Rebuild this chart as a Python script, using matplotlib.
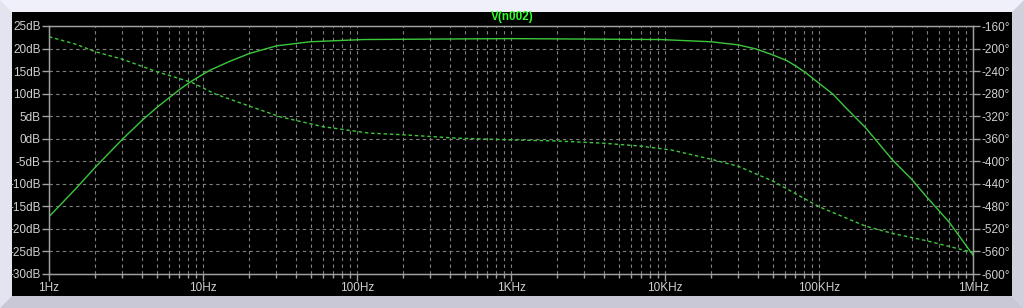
import numpy as np
import matplotlib
matplotlib.use("Agg")
import matplotlib.pyplot as plt
from matplotlib.patches import Polygon, Rectangle
from matplotlib.ticker import FixedLocator, LogLocator, NullFormatter

plt.rcParams["font.family"] = ["Liberation Sans", "DejaVu Sans"]

# magnitude of V(n002)
mag_freq = [1, 1.5, 2, 3, 4, 5, 7.1, 8.45, 11.1, 15, 20, 30, 49.5, 110, 1e3, 9.3e3, 2e4, 3e4, 3.9e4,
            5e4, 6.2e4, 7.16e4, 8.3e4, 1e5, 1.24e5, 1.48e5, 2e5, 3e5, 4e5, 5e5, 7e5, 1e6]
mag_db = [-17.3, -11.0, -6.3, -0.1, 4.0, 6.9, 11.0, 12.8, 15.2, 17.2, 18.9, 20.6, 21.5, 22.0, 22.2, 22.0, 21.5, 20.8, 19.9,
          18.6, 17.3, 16.0, 14.5, 12.3, 9.8, 7.0, 2.5, -4.7, -9.0, -12.9, -18.5, -25.8]

# phase of V(n002)
ph_freq = [1, 1.5, 2, 3, 5, 8.45, 12, 19, 31.6, 60, 120, 200, 444, 1e3, 2e3, 4e3, 6.9e3, 1.1e4, 2e4, 3e4, 5e4,
           1e5, 2e5, 3e5, 5e5, 9.1e5, 1e6]
ph_deg = [-179, -192.5, -205.6, -219, -241, -260, -280.6, -300, -321, -338.6, -350, -353, -359, -362, -364, -368, -373,
          -380, -396.5, -409, -435, -480.6, -515, -528, -541, -559, -562]

x_ticks = [1, 10, 100, 1e3, 1e4, 1e5, 1e6]
x_labels = ["1Hz", "10Hz", "100Hz", "1KHz", "10KHz", "100KHz", "1MHz"]
db_ticks = list(range(-30, 26, 5))
deg_ticks = list(range(-600, -159, 40))

W, H = 1024, 308
fig = plt.figure(figsize=(W / 100, H / 100), dpi=100)
fig.patch.set_facecolor("#f0f0fa")

# bevelled frame
def px(x, y):
    return (x / W, 1 - y / H)

frame = [
    Polygon([px(0, 0), px(0, 308), px(12, 296), px(12, 12)], closed=True, facecolor="#e4e4f0"),
    Polygon([px(0, 308), px(1024, 308), px(1012, 296), px(12, 296)], closed=True, facecolor="#c8c8d6"),
    Polygon([px(1024, 0), px(1024, 308), px(1012, 296), px(1012, 12)], closed=True, facecolor="#d0d0dc"),
    Rectangle(px(12, 296), 1000 / W, 284 / H, facecolor="black"),
]
for p in frame:
    p.set_transform(fig.transFigure)
    p.set_edgecolor("none")
    p.set_zorder(-10)
    fig.patches.append(p)

ax = fig.add_axes([49 / W, 1 - 274 / H, 924 / W, 248 / H])
ax.set_facecolor("black")
grey = "#a0a0a0"
txt = "#d0d0d0"
green = "#3cc83c"

ax.set_xscale("log")
ax.set_xlim(1, 1e6)
ax.set_ylim(-30, 25)
ax.xaxis.set_major_locator(FixedLocator(x_ticks))
ax.set_xticklabels(x_labels)
ax.xaxis.set_minor_locator(LogLocator(base=10, subs=np.arange(2, 10), numticks=20))
ax.xaxis.set_minor_formatter(NullFormatter())
ax.set_yticks(db_ticks)
ax.set_yticklabels(["%ddB" % v for v in db_ticks])

ax.grid(True, which="major", color="#808080", linestyle=(0, (3, 3)), linewidth=0.8)
ax.grid(True, which="minor", axis="x", color="#808080", linestyle=(0, (3, 3)), linewidth=0.8)

for s in ax.spines.values():
    s.set_color(grey)
    s.set_linewidth(1)
ax.tick_params(axis="both", which="major", colors=grey, labelcolor=txt, length=5, width=1, labelsize=8.5, pad=1)
ax.tick_params(axis="x", which="minor", colors=grey, length=3, width=1)

ax.plot(mag_freq, mag_db, color=green, linewidth=1)

ax2 = ax.twinx()
ax2.set_ylim(-600, -160)
ax2.set_yticks(deg_ticks)
ax2.set_yticklabels(["%d\u00b0" % v for v in deg_ticks])
ax2.tick_params(axis="y", colors=grey, labelcolor=txt, length=5, width=1, labelsize=8.5, pad=1)
for s in ax2.spines.values():
    s.set_color(grey)
ax2.plot(ph_freq, ph_deg, color=green, linewidth=1, linestyle=(0, (2.5, 2)))

fig.text(512 / W, 1 - 17 / H, "V(n002)", color="#30ff30", ha="center", va="center",
         fontsize=8.5, fontweight="bold")

fig.savefig("out.png", dpi=100, facecolor=fig.get_facecolor())
